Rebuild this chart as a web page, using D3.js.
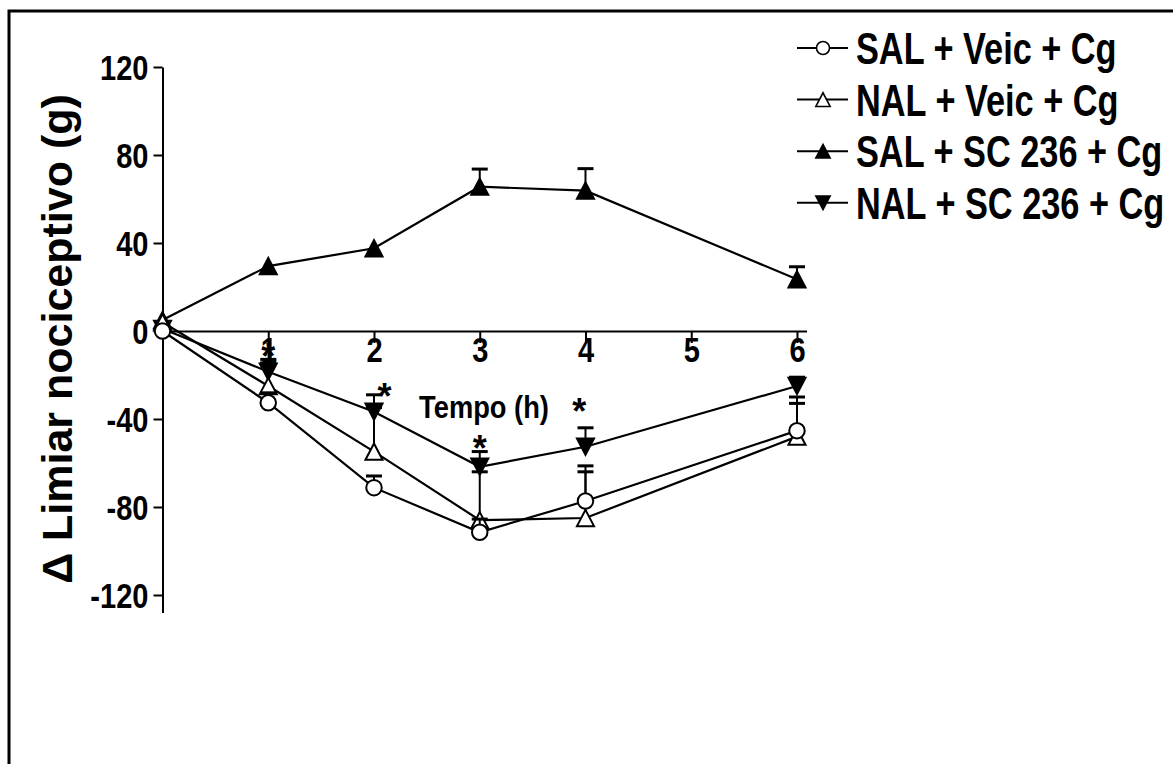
<!DOCTYPE html>
<html>
<head>
<meta charset="utf-8">
<script src="https://cdn.jsdelivr.net/npm/d3@7"></script>
<style>
  body { margin: 0; background: #fff; }
  svg { display: block; }
  text { font-family: "Liberation Sans", Arial, sans-serif; font-weight: bold; fill: #000; }
</style>
</head>
<body>
<svg id="chart" width="1173" height="764"></svg>
<script>
// time points (h)
var timeH = [0, 1, 2, 3, 4, 6];
var xTicks = [1, 2, 3, 4, 5, 6];
var yTicks = [-120, -80, -40, 0, 40, 80, 120];

// means and SEM
var salVeic = [0, -32.6, -71.2, -91.5, -77.3, -45.3];
var salVeicSem = [0, 4.5, 5.3, 6, 16, 12.4];
var nalVeic = [4, -25, -54.8, -86, -85, -48];
var nalVeicSem = [0, 10.5, 20, 22, 21, 18];
var salSc = [5, 29.5, 37.6, 65.6, 63.8, 23.5];
var salScSem = [0, 0, 0, 8, 10, 5.7];
var nalSc = [1, -18.5, -36.7, -61.7, -52.6, -25];
var nalScSem = [0, 5.6, 7.7, 6.9, 8.6, 4];

var seriesNames = ["SAL + Veic + Cg", "NAL + Veic + Cg", "SAL + SC 236 + Cg", "NAL + SC 236 + Cg"];
var seriesMarks = ["circle", "triUpOpen", "triUpFilled", "triDown"];

// significance stars (time, value)
var starT = [1, 2.1, 3, 3.94];
var starV = [-7.7, -25.9, -49.5, -32.7];

var series = [
  {name: seriesNames[0], mark: seriesMarks[0], y: salVeic, sem: salVeicSem},
  {name: seriesNames[1], mark: seriesMarks[1], y: nalVeic, sem: nalVeicSem},
  {name: seriesNames[2], mark: seriesMarks[2], y: salSc, sem: salScSem},
  {name: seriesNames[3], mark: seriesMarks[3], y: nalSc, sem: nalScSem}
];

var svg = d3.select("#chart");
var narrow = 0.78, tickNarrow = 0.83;

// outer frame (right and bottom run off the picture)
svg.append("rect").attr("x", 9).attr("y", 11).attr("width", 1300).attr("height", 900)
  .attr("fill", "none").attr("stroke", "#000").attr("stroke-width", 3);

var x = d3.scaleLinear().domain([0, 6.09]).range([162.5, 806.5]);
var y = d3.scaleLinear().domain([-128, 120]).range([612.6, 67]);

// y axis
var yAxis = svg.append("g").attr("transform", "translate(" + x(0) + ",0)")
  .call(d3.axisLeft(y).tickValues(yTicks).tickSize(9).tickSizeOuter(0)
    .tickFormat(function(d) { return String(d); }));
yAxis.select(".domain").attr("stroke-width", 2);
yAxis.selectAll(".tick line").attr("stroke-width", 2);
yAxis.selectAll(".tick text")
  .attr("x", -14 / tickNarrow).attr("dy", "0.36em")
  .attr("transform", "scale(" + tickNarrow + ",1)")
  .style("font-size", "35px");

// x axis on y = 0
var xAxis = svg.append("g").attr("transform", "translate(0," + y(0) + ")")
  .call(d3.axisBottom(x).tickValues(xTicks).tickSize(12).tickSizeOuter(0)
    .tickFormat(function(d) { return String(d); }));
xAxis.select(".domain").attr("stroke-width", 2);
xAxis.selectAll(".tick line").attr("stroke-width", 2);
xAxis.selectAll(".tick text")
  .attr("y", 31).attr("dy", 0)
  .attr("transform", "scale(" + tickNarrow + ",1)")
  .style("font-size", "35px");

svg.append("text").attr("x", 484).attr("y", 418).attr("text-anchor", "middle")
  .attr("transform", "translate(484,0) scale(0.88,1) translate(-484,0)")
  .style("font-size", "31px").text("Tempo (h)");

svg.append("text")
  .attr("transform", "translate(72,339) rotate(-90)")
  .attr("text-anchor", "middle")
  .style("font-size", "43px")
  .text("\u0394 Limiar nociceptivo (g)");

function markPath(kind, s) {
  if (kind == "circle") return d3.symbol().type(d3.symbolCircle).size(Math.PI * s * s / 4)();
  var w = s * 1.1, h = s * 1.05;
  if (kind == "triDown") return "M" + (-w / 2) + "," + (-h / 2) + "L" + (w / 2) + "," + (-h / 2) + "L0," + (h / 2) + "Z";
  return "M" + (-w / 2) + "," + (h / 2) + "L" + (w / 2) + "," + (h / 2) + "L0," + (-h / 2) + "Z";
}
function markFill(kind) { return (kind == "triUpFilled" || kind == "triDown") ? "#000" : "#fff"; }

var line = d3.line().x(function(d, i) { return x(timeH[i]); }).y(function(d) { return y(d); });

// draw last series first so the open symbols end on top
var order = series.slice().reverse();
var plot = svg.append("g");

order.forEach(function(s) {
  var g = plot.append("g");
  // error bars (upwards)
  s.y.forEach(function(v, i) {
    if (s.sem[i] <= 0) return;
    var cx = x(timeH[i]), top = y(v + s.sem[i]);
    g.append("line").attr("x1", cx).attr("x2", cx).attr("y1", y(v)).attr("y2", top)
      .attr("stroke", "#000").attr("stroke-width", 2);
    g.append("line").attr("x1", cx - 8).attr("x2", cx + 8).attr("y1", top).attr("y2", top)
      .attr("stroke", "#000").attr("stroke-width", 3);
  });
  g.append("path").datum(s.y).attr("d", line)
    .attr("fill", "none").attr("stroke", "#000").attr("stroke-width", 2.2);
  g.selectAll(".m").data(s.y).enter().append("path")
    .attr("transform", function(d, i) { return "translate(" + x(timeH[i]) + "," + y(d) + ")"; })
    .attr("d", markPath(s.mark, 15.5))
    .attr("fill", markFill(s.mark)).attr("stroke", "#000").attr("stroke-width", 2);
});

// stars
svg.selectAll(".star").data(starT).enter().append("text")
  .attr("x", function(d) { return x(d); })
  .attr("y", function(d, i) { return y(starV[i]) + 21; })
  .attr("text-anchor", "middle").style("font-size", "36px").text("*");

// legend
var leg = svg.append("g").selectAll("g").data(series).enter().append("g")
  .attr("transform", function(d, i) { return "translate(0," + (48 + i * 51.6) + ")"; });
leg.append("line").attr("x1", 797).attr("x2", 848).attr("stroke", "#000").attr("stroke-width", 2);
leg.append("path").attr("transform", "translate(823,0)")
  .attr("d", function(d) { return markPath(d.mark, 13); })
  .attr("fill", function(d) { return markFill(d.mark); })
  .attr("stroke", "#000").attr("stroke-width", 1.6);
leg.append("text").attr("x", 856 / narrow).attr("y", 16)
  .attr("transform", "scale(" + narrow + ",1)")
  .style("font-size", "44px").text(function(d) { return d.name; });
</script>
</body>
</html>
